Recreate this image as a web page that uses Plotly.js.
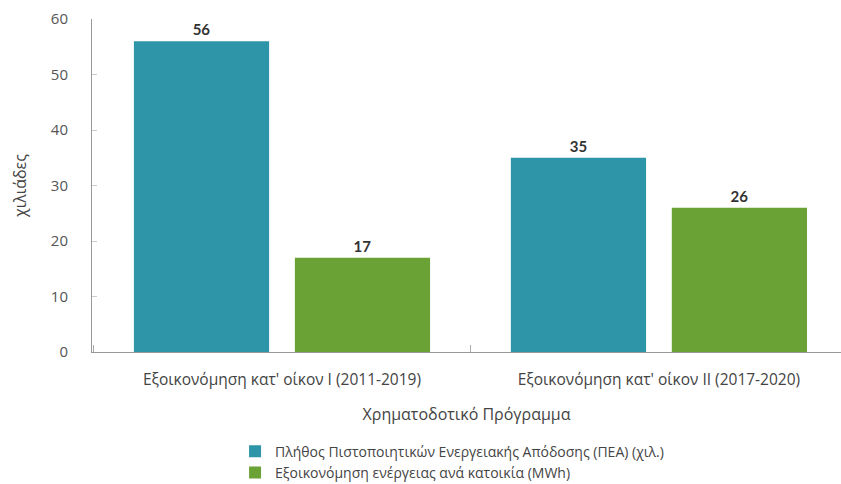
<!DOCTYPE html>
<html>
<head>
<meta charset="utf-8">
<script src="https://cdn.plot.ly/plotly-3.0.1.min.js"></script>
<style>html,body{margin:0;padding:0;background:#fff;}#chart{width:841px;height:484px;}</style>
</head>
<body>
<div id="chart"></div>
<script>
const categories = ["Εξοικονόμηση κατ' οίκον I (2011-2019)", "Εξοικονόμηση κατ' οίκον II (2017-2020)"];
const seriesNames = ["Πλήθος Πιστοποιητικών Ενεργειακής Απόδοσης (ΠΕΑ) (χιλ.)", "Εξοικονόμηση ενέργειας ανά κατοικία (MWh)"];
const peaValues = [56, 35];
const savingValues = [17, 26];
const yTicks = [0, 10, 20, 30, 40, 50, 60];

const font = "'Open Sans', 'Noto Sans', Lato, sans-serif";
const labelFont = "Lato, 'Open Sans', sans-serif";
const traces = [
  {type: "bar", name: seriesNames[0], x: categories, y: peaValues, marker: {color: "#2E95A8"},
   text: peaValues.map(String), textposition: "outside", cliponaxis: false,
   textfont: {family: labelFont, size: 15, color: "#333333", weight: 700}},
  {type: "bar", name: seriesNames[1], x: categories, y: savingValues, marker: {color: "#6BA236"},
   text: savingValues.map(String), textposition: "outside", cliponaxis: false,
   textfont: {family: labelFont, size: 15, color: "#333333", weight: 700}}
];
const layout = {
  width: 841, height: 484,
  margin: {l: 92, r: 0, t: 19, b: 132},
  paper_bgcolor: "#fff", plot_bgcolor: "#fff",
  font: {family: font, size: 14, color: "#555555"},
  barmode: "group", bargap: 0.146, bargroupgap: 0.16,
  showlegend: true,
  legend: {orientation: "v", xref: "paper", x: 0.191, xanchor: "left",
           yref: "container", y: 0.1, yanchor: "top",
           font: {family: font, size: 14, color: "#444"}, tracegroupgap: 0,
           itemwidth: 30, bgcolor: "rgba(0,0,0,0)"},
  xaxis: {type: "category", range: [-0.504, 1.483], automargin: false,
          showline: true, linecolor: "#999", linewidth: 1,
          ticks: "inside", tickson: "boundaries", ticklen: 7, tickcolor: "#aaa",
          ticklabelstandoff: 13, tickangle: 0,
          tickfont: {family: font, size: 15.5, color: "#444"}, showgrid: false,
          title: {text: "Χρηματοδοτικό Πρόγραμμα", font: {family: font, size: 16, color: "#444"}, standoff: 20}},
  yaxis: {range: [0, 60], tickvals: yTicks, ticktext: yTicks.map(String), showline: true, automargin: false,
          linecolor: "#999", linewidth: 1, ticks: "inside", ticklen: 5, tickcolor: "#ccc",
          showgrid: false, zeroline: false, ticklabelstandoff: 20,
          tickfont: {family: font, size: 15, color: "#555"},
          title: {text: "χιλιάδες", font: {family: font, size: 16, color: "#444"}, standoff: 20}}
};
Plotly.newPlot("chart", traces, layout, {displayModeBar: false, staticPlot: true});
</script>
</body>
</html>
